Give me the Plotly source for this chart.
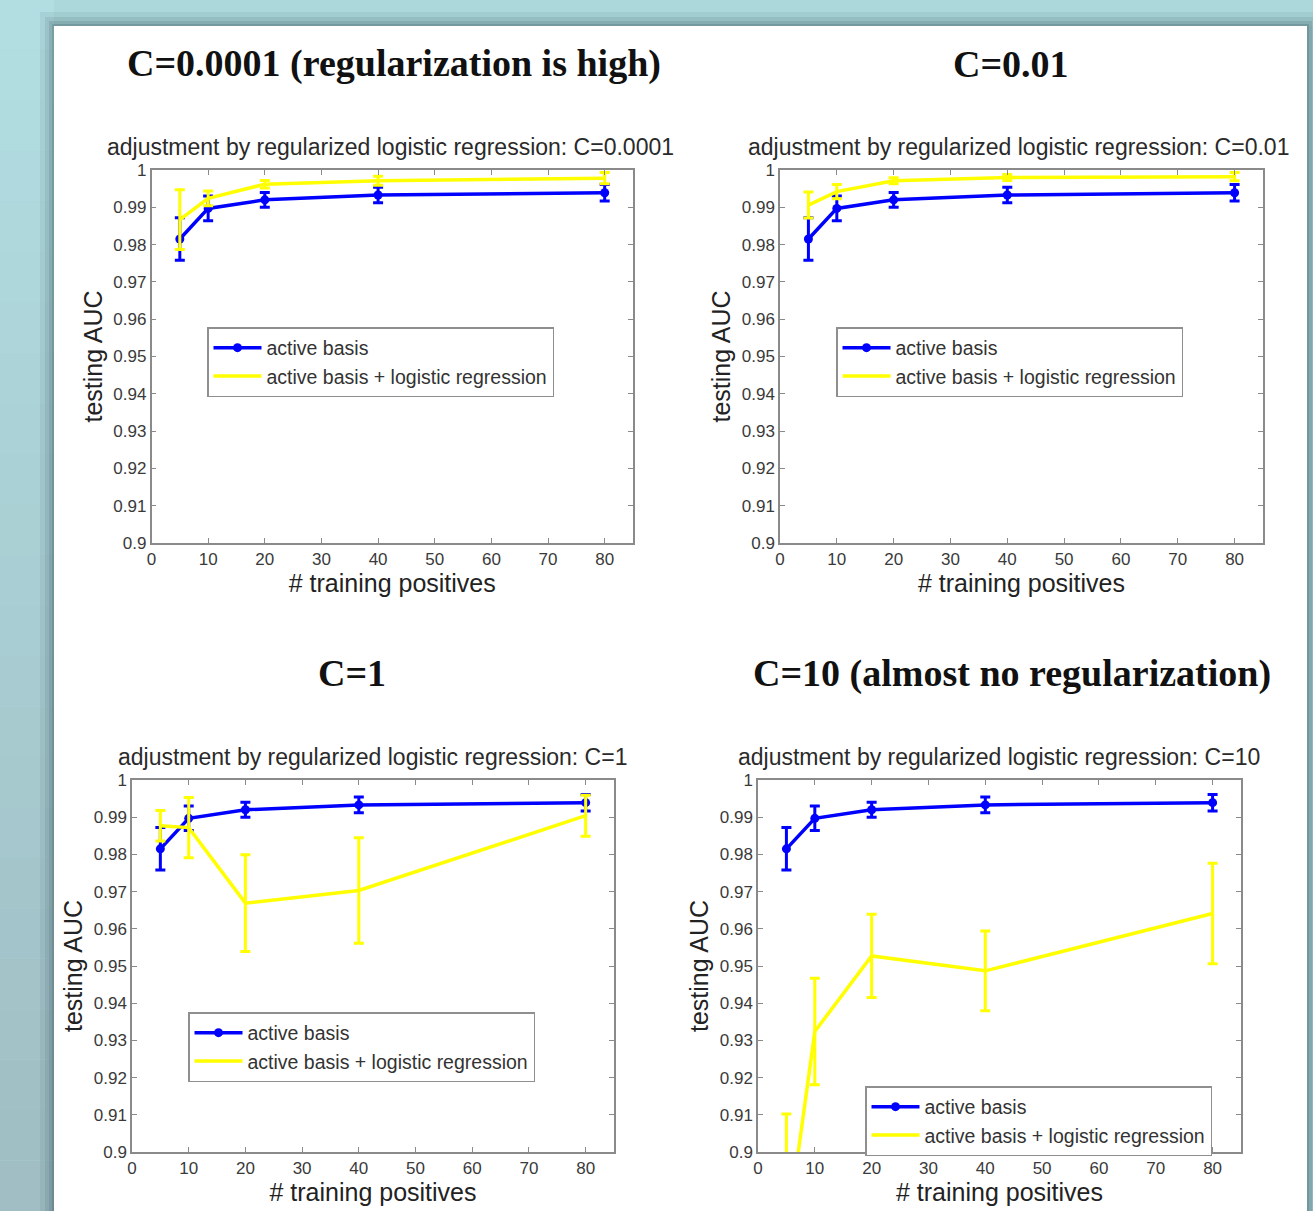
import plotly.graph_objects as go

W, H = 1313, 1211

# ---------------- data ----------------
train_pos = [5, 10, 20, 40, 80]

active_basis_mean = [0.9815, 0.9897, 0.9920, 0.9933, 0.9939]
active_basis_err = [0.0057, 0.0033, 0.0020, 0.0021, 0.0022]

lr_mean_c0001 = [0.9867, 0.9924, 0.9962, 0.9971, 0.9978]
lr_err_c0001 = [0.0080, 0.0020, 0.0010, 0.0012, 0.0015]

lr_mean_c001 = [0.9906, 0.9942, 0.9971, 0.9980, 0.9982]
lr_err_c001 = [0.0035, 0.0019, 0.0008, 0.0008, 0.0011]

lr_mean_c1 = [0.9877, 0.9872, 0.9669, 0.9703, 0.9904]
lr_err_c1 = [0.0041, 0.0081, 0.0130, 0.0142, 0.0055]

lr_mean_c10 = [0.8767, 0.9324, 0.9527, 0.9487, 0.9641]
lr_err_c10 = [0.0335, 0.0143, 0.0112, 0.0107, 0.0135]

big_titles = ["C=0.0001 (regularization is high)", "C=0.01", "C=1",
              "C=10 (almost no regularization)"]
sub_titles = ["adjustment by regularized logistic regression: C=0.0001",
              "adjustment by regularized logistic regression: C=0.01",
              "adjustment by regularized logistic regression: C=1",
              "adjustment by regularized logistic regression: C=10"]
series_names = ["active basis", "active basis + logistic regression"]
y_tickvals = [0.9, 0.91, 0.92, 0.93, 0.94, 0.95, 0.96, 0.97, 0.98, 0.99, 1.0]
y_ticktext = ["0.9", "0.91", "0.92", "0.93", "0.94", "0.95", "0.96", "0.97",
              "0.98", "0.99", "1"]
x_tickvals = [0, 10, 20, 30, 40, 50, 60, 70, 80]
x_title = "# training positives"
y_title = "testing AUC"

lr_means = [lr_mean_c0001, lr_mean_c001, lr_mean_c1, lr_mean_c10]
lr_errs = [lr_err_c0001, lr_err_c001, lr_err_c1, lr_err_c10]

# ---------------- layout geometry (pixels) ----------------
def px(x):
    return x / W

def py(y):
    return 1 - y / H

# plot boxes: (left, right, top, bottom)
boxes = [(151.5, 633, 170, 543), (780, 1263, 170, 543),
         (132, 614, 780, 1152), (758, 1241, 780, 1152)]
big_title_pos = [(394, 64), (1011, 64), (352, 673), (1012, 673)]
sub_title_pos = [(390, 147), (1018, 147), (372, 757), (999, 757)]
legend_pos = [(207, 327), (836, 327), (188, 1012), (865, 1086)]

BLUE = "#0000ff"
YELLOW = "#ffff00"
AXIS_GRAY = "#8a8a8a"
TEXT_GRAY = "#3a3a3a"
SANS = "Liberation Sans, Arial, sans-serif"
SERIF = "Liberation Serif, Times New Roman, serif"

fig = go.Figure()

for i in range(4):
    xa = "x" if i == 0 else f"x{i+1}"
    ya = "y" if i == 0 else f"y{i+1}"
    leg = "legend" if i == 0 else f"legend{i+1}"
    fig.add_trace(go.Scatter(
        x=train_pos, y=active_basis_mean, xaxis=xa, yaxis=ya,
        name=series_names[0], legend=leg, mode="lines+markers",
        line=dict(color=BLUE, width=3.5),
        marker=dict(color=BLUE, size=9, symbol="circle"),
        error_y=dict(type="data", array=active_basis_err, color=BLUE,
                     thickness=3, width=5),
    ))
    fig.add_trace(go.Scatter(
        x=train_pos, y=lr_means[i], xaxis=xa, yaxis=ya,
        name=series_names[1], legend=leg, mode="lines",
        line=dict(color=YELLOW, width=3.5),
        error_y=dict(type="data", array=lr_errs[i], color=YELLOW,
                     thickness=3, width=5),
    ))

layout = dict(
    width=W, height=H,
    margin=dict(l=0, r=0, t=0, b=0),
    paper_bgcolor="#a9d2d6",
    plot_bgcolor="white",
    showlegend=True,
    font=dict(family=SANS, color=TEXT_GRAY),
)

for i, (l, r, t, b) in enumerate(boxes):
    xk = "xaxis" if i == 0 else f"xaxis{i+1}"
    yk = "yaxis" if i == 0 else f"yaxis{i+1}"
    ya = "y" if i == 0 else f"y{i+1}"
    xa = "x" if i == 0 else f"x{i+1}"
    layout[xk] = dict(
        domain=[px(l), px(r)], anchor=ya, range=[0, 85],
        tickmode="array", tickvals=x_tickvals,
        ticks="inside", ticklen=5, tickcolor=AXIS_GRAY, mirror="ticks",
        showline=True, linecolor=AXIS_GRAY, linewidth=1.5,
        showgrid=False, zeroline=False,
        tickfont=dict(family=SANS, size=17, color=TEXT_GRAY),
        title=dict(text=x_title, font=dict(family=SANS, size=25, color="#222222"),
                   standoff=2),
        automargin=False,
    )
    layout[yk] = dict(
        domain=[py(b), py(t)], anchor=xa, range=[0.9, 1.0],
        tickmode="array", tickvals=y_tickvals, ticktext=y_ticktext,
        ticks="inside", ticklen=5, tickcolor=AXIS_GRAY, mirror="ticks",
        showline=True, linecolor=AXIS_GRAY, linewidth=1.5,
        showgrid=False, zeroline=False,
        tickfont=dict(family=SANS, size=17, color=TEXT_GRAY),
        title=dict(text=y_title, font=dict(family=SANS, size=25, color="#222222"),
                   standoff=4),
        automargin=False,
    )
    lk = "legend" if i == 0 else f"legend{i+1}"
    lx, ly = legend_pos[i]
    layout[lk] = dict(
        x=px(lx), y=py(ly), xanchor="left", yanchor="top",
        bgcolor="white", bordercolor="#8f8f8f", borderwidth=1.5,
        font=dict(family=SANS, size=19.5, color="#333333"),
        itemwidth=48, tracegroupgap=0,
    )

fig.update_layout(**layout)

# ---------------- background (slide) ----------------
shapes = []
# left strip gradient
n = 24
for k in range(n):
    y0 = H * k / n
    y1 = H * (k + 1) / n
    f = k / (n - 1)
    r = int(178 + (160 - 178) * f)
    g = int(222 + (190 - 222) * f)
    bcol = int(226 + (196 - 226) * f)
    shapes.append(dict(type="rect", xref="paper", yref="paper", layer="below",
                       x0=0, x1=px(54), y0=py(y1), y1=py(y0),
                       line=dict(width=0), fillcolor=f"rgb({r},{g},{bcol})"))
# top strip
shapes.append(dict(type="rect", xref="paper", yref="paper", layer="below",
                   x0=px(54), x1=1, y0=py(26), y1=1, line=dict(width=0),
                   fillcolor="rgb(172,216,220)"))
# shadows
for k, (d, op) in enumerate([(14, 0.08), (9, 0.10), (5, 0.14), (2, 0.18)]):
    shapes.append(dict(type="rect", xref="paper", yref="paper", layer="below",
                       x0=px(54 - d), x1=px(1307 + d), y0=0, y1=py(26 - d),
                       line=dict(width=0), fillcolor=f"rgba(40,70,75,{op})"))
# white slide panel
shapes.append(dict(type="rect", xref="paper", yref="paper", layer="below",
                   x0=px(54), x1=px(1307), y0=0, y1=py(26),
                   line=dict(width=0), fillcolor="white"))
fig.update_layout(shapes=shapes)

# ---------------- titles ----------------
annotations = []
for i in range(4):
    bx, by = big_title_pos[i]
    annotations.append(dict(
        text=big_titles[i], xref="paper", yref="paper", x=px(bx), y=py(by),
        xanchor="center", yanchor="middle", showarrow=False,
        font=dict(family=SERIF, size=38, color="#111111", weight="bold"),
    ))
    sx, sy = sub_title_pos[i]
    annotations.append(dict(
        text=sub_titles[i], xref="paper", yref="paper", x=px(sx), y=py(sy),
        xanchor="center", yanchor="middle", showarrow=False,
        font=dict(family=SANS, size=23, color="#2a2a2a"),
    ))
fig.update_layout(annotations=annotations)

fig.write_html("out.html",
               config={"displayModeBar": False},
               post_script="document.body.style.margin='0px';"
                           "document.body.style.overflow='hidden';")
